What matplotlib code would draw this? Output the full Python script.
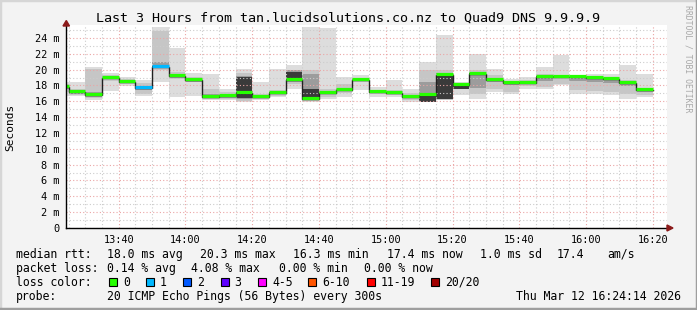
import matplotlib
matplotlib.use("Agg")
import matplotlib.pyplot as plt
from matplotlib.patches import Rectangle, Polygon
from matplotlib.lines import Line2D
import matplotlib.transforms as mtransforms
import numpy as np

# ---------------- data ----------------
bin_start = ["13:20", "13:25", "13:30", "13:35", "13:40", "13:45", "13:50", "13:55",
             "14:00", "14:05", "14:10", "14:15", "14:20", "14:25", "14:30", "14:35",
             "14:40", "14:45", "14:50", "14:55", "15:00", "15:05", "15:10", "15:15",
             "15:20", "15:25", "15:30", "15:35", "15:40", "15:45", "15:50", "15:55",
             "16:00", "16:05", "16:10", "16:15"]

median_ms = [17.85, 17.13, 16.84, 18.94, 18.43, 17.63, 20.29, 19.19,
             18.64, 16.50, 16.62, 17.09, 16.50, 17.09, 18.65, 16.29,
             17.05, 17.42, 18.65, 17.13, 17.08, 16.54, 16.84, 19.36,
             18.10, 19.48, 18.65, 18.31, 18.35, 19.10, 19.10, 19.07,
             18.94, 18.80, 18.31, 17.40]

loss_count = [0, 0, 0, 0, 0, 1, 1, 0, 0, 0, 0, 0, 0, 0, 0, 0, 0, 0,
              0, 0, 0, 0, 0, 0, 0, 0, 0, 0, 0, 0, 0, 0, 0, 0, 0, 0]

# smoke bands (ms): outermost pings -> innermost pings
outer_lo = [16.70, 16.66, 16.16, 17.34, 17.93, 16.66, 18.40, 16.60,
            16.66, 16.12, 16.12, 15.91, 16.12, 16.54, 17.59, 15.91,
            16.33, 16.54, 17.38, 16.54, 16.54, 15.91, 15.91, 16.12,
            16.75, 16.33, 17.17, 16.96, 17.59, 17.59, 18.01, 16.96,
            16.96, 16.75, 16.33, 16.54]
outer_hi = [18.45, 18.47, 20.37, 19.53, 19.02, 18.68, 25.40, 22.70,
            19.60, 19.49, 17.60, 20.12, 18.43, 20.12, 20.62, 25.40,
            25.20, 19.07, 19.28, 17.80, 18.65, 17.59, 20.96, 24.33,
            18.43, 22.01, 20.12, 18.86, 19.07, 20.33, 21.88, 19.28,
            19.49, 19.49, 20.54, 19.49]
mid_lo = [17.20, 16.80, 16.40, 18.60, 18.20, 16.90, 20.00, 18.85,
          18.40, 16.30, 16.30, 16.10, 16.30, 16.70, 18.20, 16.00,
          16.60, 17.00, 18.40, 16.90, 16.80, 16.20, 16.00, 16.20,
          17.60, 16.96, 17.60, 17.20, 17.90, 17.80, 18.20, 17.40,
          17.30, 17.20, 16.90, 16.80]
mid_hi = [18.20, 17.60, 20.12, 19.30, 18.80, 18.30, 24.83, 19.70,
          19.07, 17.59, 17.20, 19.60, 16.90, 17.40, 20.00, 20.00,
          17.60, 18.20, 19.00, 17.40, 17.40, 17.00, 19.90, 19.90,
          18.30, 19.90, 19.30, 18.40, 18.70, 19.50, 19.30, 19.20,
          19.20, 19.00, 18.70, 17.70]
inner_lo = [17.60, 16.95, 16.50, 18.80, 18.30, 17.40, 20.15, 18.95,
            18.50, 16.40, 16.45, 16.30, 16.40, 16.90, 18.50, 16.12,
            16.90, 17.30, 18.55, 17.05, 17.00, 16.40, 16.00, 16.25,
            17.60, 17.70, 18.40, 18.00, 18.20, 18.60, 18.90, 18.60,
            18.50, 18.30, 17.90, 17.20]
inner_hi = [18.00, 17.30, 17.20, 19.10, 18.60, 17.90, 21.00, 19.40,
            18.80, 16.90, 16.96, 19.20, 16.70, 17.20, 19.90, 19.48,
            17.30, 17.60, 18.80, 17.25, 17.20, 16.70, 18.40, 19.60,
            18.15, 19.60, 18.90, 18.40, 18.50, 19.20, 19.20, 19.10,
            19.00, 18.90, 18.40, 17.50]
core_lo = [17.80, 17.05, 16.75, 18.90, 18.40, 17.55, 20.20, 19.10,
           18.60, 16.45, 16.55, 16.40, 16.45, 17.00, 18.70, 16.15,
           17.00, 17.38, 18.60, 17.10, 17.05, 16.50, 15.95, 16.33,
           17.60, 19.30, 18.55, 18.20, 18.30, 19.00, 19.05, 19.00,
           18.90, 18.75, 18.25, 17.35]
core_hi = [17.90, 17.15, 16.90, 19.00, 18.50, 17.70, 20.40, 19.25,
           18.70, 16.55, 16.95, 19.07, 16.55, 17.15, 19.70, 17.59,
           17.10, 17.48, 18.70, 17.17, 17.12, 16.60, 16.95, 19.28,
           18.00, 19.55, 18.70, 18.35, 18.40, 19.15, 19.15, 19.10,
           19.00, 18.85, 18.35, 17.45]

loss_colors = {0: "#26ff00", 1: "#00b8ff", 2: "#0059ff", 3: "#5e00ff",
               4: "#ff00ff", 6: "#ff5500", 11: "#ff0000", 20: "#a10000"}
legend_labels = ["0", "1", "2", "3", "4-5", "6-10", "11-19", "20/20"]
legend_keys = [0, 1, 2, 3, 4, 6, 11, 20]

y_ticks = list(range(0, 25, 2))
x_tick_labels = ["13:40", "14:00", "14:20", "14:40", "15:00", "15:20", "15:40", "16:00", "16:20"]

title = "Last 3 Hours from tan.lucidsolutions.co.nz to Quad9 DNS 9.9.9.9"

# ---------------- layout ----------------
W, H = 697, 310
MONO = "DejaVu Sans Mono"


def tmin(s):
    h, m = s.split(":")
    return int(h) * 60 + int(m)


def lc_for(n):
    key = 0
    for k in sorted(loss_colors):
        if n >= k:
            key = k
    return loss_colors[key]


x0 = np.array([tmin(s) for s in bin_start], dtype=float)
t_start = 13 * 60 + 24 + 14 / 60
t_end = 16 * 60 + 24 + 14 / 60

fig = plt.figure(figsize=(W / 100, H / 100), dpi=100)
fig.patch.set_facecolor("#f3f3f3")

ax_l, ax_r, ax_b, ax_t = 66, 667, 228, 25
ax = fig.add_axes([ax_l / W, 1 - ax_b / H, (ax_r - ax_l) / W, (ax_b - ax_t) / H])
ax.set_facecolor("white")
ax.set_xlim(t_start, t_end)
ax.set_ylim(0, (ax_b - ax_t) / 7.917)

# smoke
bands = [(outer_lo, outer_hi, "#dddddd"), (mid_lo, mid_hi, "#c6c6c6"),
         (inner_lo, inner_hi, "#9c9c9c"), (core_lo, core_hi, "#3a3a3a")]
for lo, hi, col in bands:
    lo = np.array(lo); hi = np.array(hi)
    ax.bar(x0, hi - lo, bottom=lo, width=5, align="edge", color=col,
           linewidth=0, zorder=1, antialiased=False)

# grid (drawn above smoke, like rrdtool)
ax.set_xticks([tmin(s) for s in x_tick_labels])
ax.set_xticklabels(x_tick_labels)
ax.set_xticks(np.arange(tmin("13:25"), t_end, 5), minor=True)
ax.set_yticks(y_ticks)
ax.set_yticklabels(["0" if v == 0 else f"{v} m" for v in y_ticks])
ax.set_yticks(range(1, 26), minor=True)
ax.set_axisbelow(False)
ax.grid(which="minor", color="#cccccc", linestyle=(0, (1, 2)), linewidth=0.8)
ax.grid(which="major", color="#eba5a5", linestyle=(0, (1, 2)), linewidth=0.8)
for g in ax.get_xgridlines() + ax.get_ygridlines():
    g.set_zorder(1.5)

# median line
xs = np.concatenate([x0, [x0[-1] + 5]])
ys = np.concatenate([median_ms, [median_ms[-1]]])
ax.step(xs, ys, where="post", color="#202020", linewidth=1.0, zorder=3)
off = mtransforms.offset_copy(ax.transData, fig=fig, x=0, y=1.0, units="dots")
ax.hlines(median_ms, x0, x0 + 5, colors=[lc_for(n) for n in loss_count],
          linewidth=2.3, zorder=4, transform=off)

# axes styling
for s in ["top", "right"]:
    ax.spines[s].set_visible(False)
for s in ["left", "bottom"]:
    ax.spines[s].set_color("black")
    ax.spines[s].set_linewidth(1.0)
    ax.spines[s].set_zorder(5)
ax.tick_params(which="both", length=0)
ax.tick_params(axis="y", pad=4.5, labelsize=7.4)
ax.tick_params(axis="x", pad=5.0, labelsize=7.4)
for lab in ax.get_xticklabels() + ax.get_yticklabels():
    lab.set_fontfamily(MONO)


def fx(x):
    return x / W


def fy(y):
    return 1 - y / H


# arrows
fig.patches.append(Polygon([(fx(63), fy(26)), (fx(69.5), fy(26)), (fx(66.3), fy(20.5))],
                           closed=True, transform=fig.transFigure, color="#8b1a1a", zorder=6))
fig.patches.append(Polygon([(fx(667), fy(225)), (fx(667), fy(231)), (fx(673), fy(228))],
                           closed=True, transform=fig.transFigure, color="#8b1a1a", zorder=6))

# title and side texts
fig.text(fx(347.5), fy(18.5), title, family=MONO, fontsize=9.6, ha="center", va="center")
fig.text(fx(10), fy(127), "Seconds", family=MONO, fontsize=8.0, rotation=90,
         ha="center", va="center")
fig.text(fx(688), fy(5), "RRDTOOL / TOBI OETIKER", family=MONO, fontsize=5.9,
         rotation=270, ha="center", va="top", color="#a8a8a8")

# legend
LFS = 8.3
rows = [254.3, 268.3, 282.3, 296.2]
fig.text(fx(16), fy(rows[0]), "median rtt:", family=MONO, fontsize=LFS, va="center")
stats1 = [(107, "18.0 ms avg"), (200, "20.3 ms max"), (293, "16.3 ms min"),
          (386.5, "17.4 ms now"), (480, "1.0 ms sd"), (557, "17.4"), (607, "am/s")]
for x, s in stats1:
    fig.text(fx(x), fy(rows[0]), s, family=MONO, fontsize=LFS, va="center")
fig.text(fx(16), fy(rows[1]), "packet loss:", family=MONO, fontsize=LFS, va="center")
stats2 = [(107, "0.14 % avg"), (191, "4.08 % max"), (279, "0.00 % min"), (364.5, "0.00 % now")]
for x, s in stats2:
    fig.text(fx(x), fy(rows[1]), s, family=MONO, fontsize=LFS, va="center")
fig.text(fx(16), fy(rows[2]), "loss color:", family=MONO, fontsize=LFS, va="center")
box_x = [109, 146, 183, 220.5, 258, 308, 366.5, 431]
for bx, key, lab in zip(box_x, legend_keys, legend_labels):
    fig.patches.append(Rectangle((fx(bx), fy(rows[2] + 4)), 8 / W, 8 / H,
                                 transform=fig.transFigure, facecolor=loss_colors[key],
                                 edgecolor="black", linewidth=0.8, zorder=6))
    fig.text(fx(bx + 14), fy(rows[2]), lab, family=MONO, fontsize=LFS, va="center")
fig.text(fx(16), fy(rows[3]), "probe:", family=MONO, fontsize=LFS, va="center")
fig.text(fx(107), fy(rows[3]), "20 ICMP Echo Pings (56 Bytes) every 300s",
         family=MONO, fontsize=LFS, va="center")
fig.text(fx(680.5), fy(rows[3]), "Thu Mar 12 16:24:14 2026", family=MONO,
         fontsize=LFS, va="center", ha="right")

# 3D border
fig.lines.append(Line2D([0, 0, 1], [0, 1, 1], transform=fig.transFigure,
                        color="#d6d6d6", linewidth=2.5))
fig.lines.append(Line2D([0, 1, 1], [0.003, 0.003, 1], transform=fig.transFigure,
                        color="#9e9e9e", linewidth=2.5))

fig.savefig("out.png", dpi=100, facecolor=fig.get_facecolor())
